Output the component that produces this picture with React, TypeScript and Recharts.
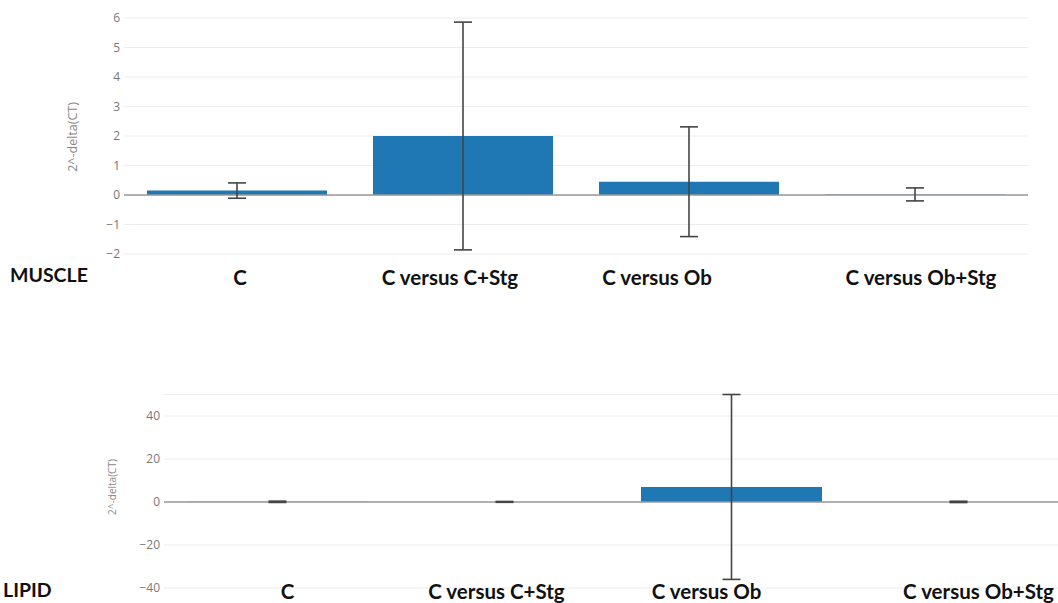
import React from "react";
import {
  BarChart,
  Bar,
  XAxis,
  YAxis,
  CartesianGrid,
  ReferenceLine,
  ErrorBar,
} from "recharts";

const categories = ["C", "C versus C+Stg", "C versus Ob", "C versus Ob+Stg"];

// MUSCLE panel
const muscleValues = [0.15, 2.0, 0.45, 0.02];
const muscleErrors = [0.26, 3.86, 1.86, 0.22];
const muscleTicks = [-2, -1, 0, 1, 2, 3, 4, 5, 6];

// LIPID panel
const lipidValues = [0.1, 0.05, 7, 0.05];
const lipidErrors = [0.3, 0.2, 43, 0.3];
const lipidTicks = [-40, -20, 0, 20, 40];

// label nudges (the category labels were pasted on, not centred)
const muscleShift = [3, -13, -32, 6];
const lipidShift = [10, -8, -25, 20];

const muscleData = categories.map((c, i) => ({
  name: c,
  value: muscleValues[i],
  err: muscleErrors[i],
}));
const lipidData = categories.map((c, i) => ({
  name: c,
  value: lipidValues[i],
  err: lipidErrors[i],
}));

const BLUE = "#1f77b4";
const tickStyle = { fill: "#777", fontSize: 12, fontFamily: "Open Sans" };
const minus = (v: number) => (v < 0 ? `\u2212${Math.abs(v)}` : `${v}`);

const makeTick = (shift: number[], dy: number) => (props: any) => {
  const { x, y, payload, index } = props;
  return (
    <text
      x={x + (shift[index] || 0)}
      y={y + dy}
      textAnchor="middle"
      dominantBaseline="central"
      fontFamily="Lato"
      fontWeight={700}
      fontSize={20.5}
      fill="#111"
    >
      {payload.value}
    </text>
  );
};

const sideLabel: React.CSSProperties = {
  position: "absolute",
  fontFamily: "Lato",
  fontWeight: 700,
  fontSize: 19.5,
  color: "#111",
  lineHeight: "20px",
};

const yTitle = (left: number, top: number, size: number): React.CSSProperties => ({
  position: "absolute",
  left,
  top,
  transform: "translate(-50%, -50%) rotate(-90deg)",
  fontFamily: "Open Sans",
  fontSize: size,
  color: "#888",
  whiteSpace: "nowrap",
});

export default function App() {
  return (
    <div
      style={{
        position: "fixed",
        left: 0,
        top: 0,
        width: 1058,
        height: 603,
        overflow: "hidden",
        background: "#fff",
      }}
    >
      <div style={{ position: "absolute", left: 0, top: 0 }}>
        <BarChart
          width={1058}
          height={300}
          data={muscleData}
          margin={{ top: 18, right: 30, left: 0, bottom: 6 }}
        >
          <CartesianGrid vertical={false} stroke="#ececec" />
          <XAxis
            dataKey="name"
            height={40}
            axisLine={false}
            tickLine={false}
            tickSize={0}
            tick={makeTick(muscleShift, 21)}
            interval={0}
          />
          <YAxis
            width={124}
            domain={[-2, 6]}
            ticks={muscleTicks}
            axisLine={false}
            tickLine={false}
            tickSize={0}
            tickMargin={4}
            tick={tickStyle}
            tickFormatter={minus}
          />
          <ReferenceLine y={0} stroke="#999" strokeWidth={1.5} />
          <Bar dataKey="value" fill={BLUE} barSize={180} isAnimationActive={false}>
            <ErrorBar
              dataKey="err"
              width={9}
              stroke="#444"
              strokeWidth={1.6}
              isAnimationActive={false}
            />
          </Bar>
        </BarChart>
      </div>
      <div style={{ ...sideLabel, left: 10, top: 265 }}>MUSCLE</div>
      <div style={yTitle(72, 137, 12.5)}>2^-delta(CT)</div>

      <div style={{ position: "absolute", left: 0, top: 380 }}>
        <BarChart
          width={1072}
          height={223}
          data={lipidData}
          margin={{ top: 14.5, right: 0, left: 0, bottom: 0 }}
        >
          <CartesianGrid vertical={false} stroke="#ececec" />
          <XAxis
            dataKey="name"
            height={15}
            axisLine={false}
            tickLine={false}
            tickSize={0}
            tick={makeTick(lipidShift, 1)}
            interval={0}
          />
          <YAxis
            width={164}
            domain={[-40, 50]}
            ticks={lipidTicks}
            axisLine={false}
            tickLine={false}
            tickSize={0}
            tickMargin={4}
            tick={tickStyle}
            tickFormatter={minus}
          />
          <ReferenceLine y={0} stroke="#999" strokeWidth={1.5} />
          <Bar dataKey="value" fill={BLUE} barSize={181} isAnimationActive={false}>
            <ErrorBar
              dataKey="err"
              width={9}
              stroke="#444"
              strokeWidth={1.6}
              isAnimationActive={false}
            />
          </Bar>
        </BarChart>
      </div>
      <div style={{ ...sideLabel, left: 3, top: 580 }}>LIPID</div>
      <div style={yTitle(112, 487, 10)}>2^-delta(CT)</div>
    </div>
  );
}
